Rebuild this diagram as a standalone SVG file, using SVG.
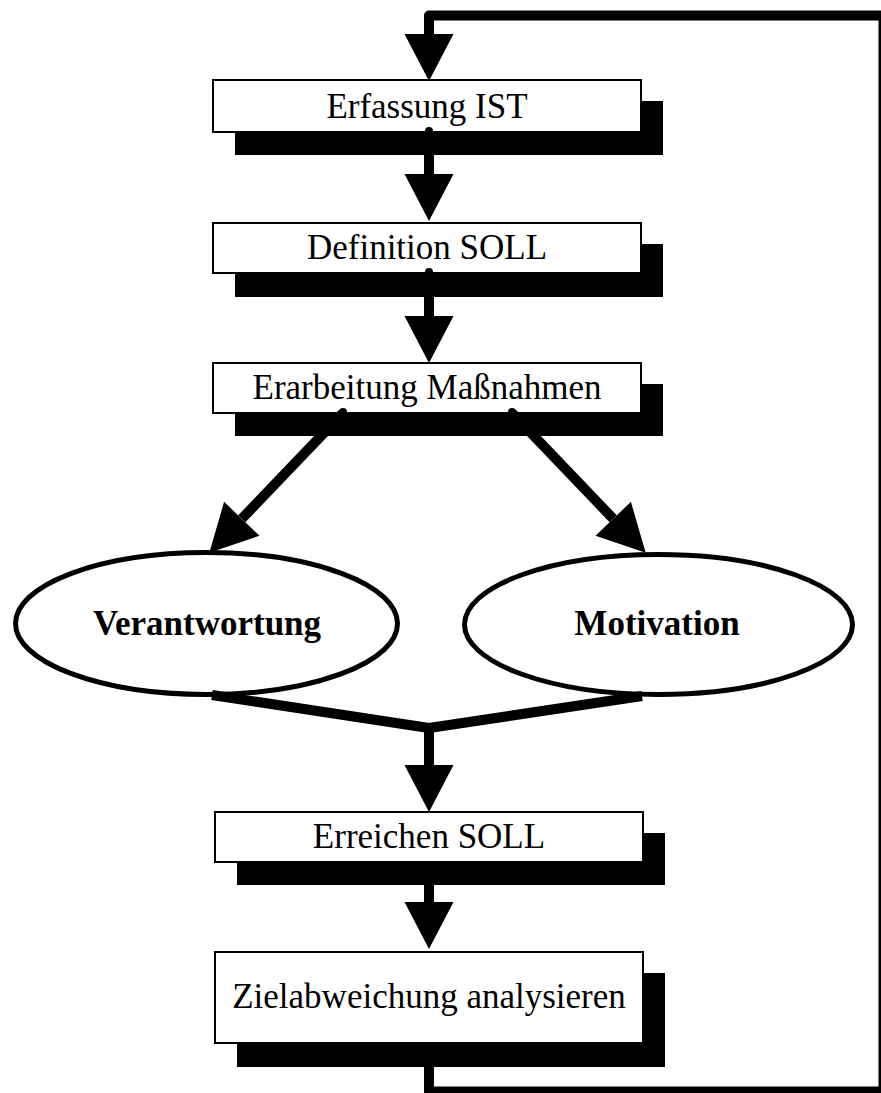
<svg xmlns="http://www.w3.org/2000/svg" width="881" height="1093" viewBox="0 0 881 1093">
<style>
.box{fill:#fff;stroke:#000;stroke-width:2}
.shadow{fill:#000}
.ell{fill:#fff;stroke:#000;stroke-width:5}
.lbl{font-family:"Liberation Serif","Times New Roman",serif;font-size:35px;fill:#000;text-anchor:middle}
.bold{font-weight:bold}
.con{fill:none;stroke:#000;stroke-width:10;stroke-linejoin:round}
</style>
<defs>
<marker id="ah" markerUnits="userSpaceOnUse" markerWidth="48" markerHeight="50" refX="0" refY="24.5" orient="auto" overflow="visible">
<path d="M0,0 L47,24.5 L0,49 z" fill="#000"/>
</marker>
</defs>
<rect width="881" height="1093" fill="#fff"/>
<g id="n1">
<rect class="shadow" x="235" y="101" width="428" height="54"/>
<rect class="box" x="213" y="80" width="428" height="52"/>
<text class="lbl" x="427" y="118">Erfassung IST</text>
</g>
<g id="n2">
<rect class="shadow" x="235" y="244" width="428" height="53"/>
<rect class="box" x="213" y="223" width="428" height="50"/>
<text class="lbl" x="427" y="259">Definition SOLL</text>
</g>
<g id="n3">
<rect class="shadow" x="235" y="384" width="428" height="52"/>
<rect class="box" x="213" y="363" width="428" height="50"/>
<text class="lbl" x="427" y="399">Erarbeitung Maßnahmen</text>
</g>
<g id="n4">
<ellipse class="ell" cx="206.5" cy="623.5" rx="191" ry="71"/>
<text class="lbl bold" x="207" y="635">Verantwortung</text>
</g>
<g id="n5">
<ellipse class="ell" cx="658.5" cy="624.5" rx="194" ry="70"/>
<text class="lbl bold" x="657" y="635">Motivation</text>
</g>
<g id="n6">
<rect class="shadow" x="237" y="833" width="428" height="52"/>
<rect class="box" x="215" y="812" width="428" height="50"/>
<text class="lbl" x="429" y="848">Erreichen SOLL</text>
</g>
<g id="n7">
<rect class="shadow" x="237" y="973" width="428" height="94"/>
<rect class="box" x="215" y="952" width="428" height="91"/>
<text class="lbl" x="429" y="1008">Zielabweichung analysieren</text>
</g>
<g id="connectors">
<path class="con" d="M429,1043 L429,1091.5 L883.5,1091.5 L883.5,15.5 L429,15.5 L429,34" marker-end="url(#ah)"/>
<path class="con" d="M429,132 L429,174" marker-end="url(#ah)"/>
<path class="con" d="M429,273 L429,316" marker-end="url(#ah)"/>
<path class="con" d="M343,413 L241.8,518.8" marker-end="url(#ah)"/>
<path class="con" d="M512,413 L613.2,518.8" marker-end="url(#ah)"/>
<path class="con" d="M212,695 L429,728 L642,696"/>
<path class="con" d="M429,728 L429,765" marker-end="url(#ah)"/>
<path class="con" d="M429,862 L429,902" marker-end="url(#ah)"/>
<circle cx="429" cy="131" r="4"/>
<circle cx="429" cy="272" r="4"/>
<circle cx="343" cy="412" r="4"/>
<circle cx="512" cy="412" r="4"/>
</g>
</svg>
